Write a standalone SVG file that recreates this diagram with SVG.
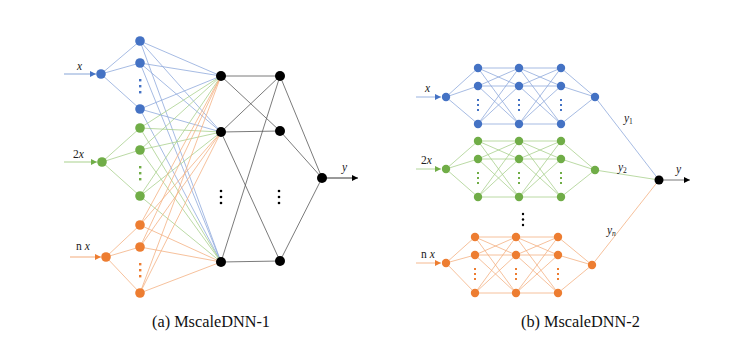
<svg xmlns="http://www.w3.org/2000/svg" width="745" height="350" viewBox="0 0 745 350">
<style>
.lb{stroke:#8FAADC;stroke-width:0.8;fill:none}
.lg{stroke:#A9D18E;stroke-width:0.8;fill:none}
.lo{stroke:#F4B183;stroke-width:0.8;fill:none}
.lk{stroke:#595959;stroke-width:0.8;fill:none}
.nb{fill:#4472C4}
.ng{fill:#70AD47}
.no{fill:#ED7D31}
.nk{fill:#000}
.t{font-family:"Liberation Serif",serif;font-size:11.5px;fill:#222}
.i{font-style:italic}
.cap{font-family:"Liberation Serif",serif;font-size:16.3px;fill:#111}
</style>
<defs>
<marker id="ab" viewBox="0 0 6 6" refX="6" refY="3" markerWidth="6" markerHeight="6" markerUnits="userSpaceOnUse" orient="auto"><path d="M0 0L6 3L0 6z" fill="#4472C4"/></marker>
<marker id="ag" viewBox="0 0 6 6" refX="6" refY="3" markerWidth="6" markerHeight="6" markerUnits="userSpaceOnUse" orient="auto"><path d="M0 0L6 3L0 6z" fill="#70AD47"/></marker>
<marker id="ao" viewBox="0 0 6 6" refX="6" refY="3" markerWidth="6" markerHeight="6" markerUnits="userSpaceOnUse" orient="auto"><path d="M0 0L6 3L0 6z" fill="#ED7D31"/></marker>
<marker id="ak" viewBox="0 0 6 6" refX="6" refY="3" markerWidth="6" markerHeight="6" markerUnits="userSpaceOnUse" orient="auto"><path d="M0 0L6 3L0 6z" fill="#000"/></marker>
</defs>
<rect width="745" height="350" fill="#fff"/>
<g id="connectors">
<path class="lb" d="M101 74L140 41M101 74L140 63M101 74L140 109M140 41L221 76M140 41L221 132M140 41L221 262M140 63L221 76M140 63L221 132M140 63L221 262M140 109L221 76M140 109L221 132M140 109L221 262"/>
<path class="lg" d="M102 162L140 128M102 162L140 150M102 162L140 196M140 128L221 76M140 128L221 132M140 128L221 262M140 150L221 76M140 150L221 132M140 150L221 262M140 196L221 76M140 196L221 132M140 196L221 262"/>
<path class="lo" d="M106 257L140 225M106 257L140 247M106 257L140 293M140 225L221 76M140 225L221 132M140 225L221 262M140 247L221 76M140 247L221 132M140 247L221 262M140 293L221 76M140 293L221 132M140 293L221 262"/>
<path class="lk" d="M221 76L280 76M221 76L280 131M221 132L280 76M221 132L280 131M221 132L280 261M221 262L280 76M221 262L280 261M280 76L322 178M280 131L322 178M280 261L322 178"/>
<line x1="64" y1="74" x2="96" y2="74" stroke="#B4C7E7" stroke-width="1.6" marker-end="url(#ab)"/>
<line x1="64" y1="162" x2="97" y2="162" stroke="#A9D18E" stroke-width="1.2" marker-end="url(#ag)"/>
<line x1="70" y1="257" x2="101" y2="257" stroke="#F8CBAD" stroke-width="1.6" marker-end="url(#ao)"/>
<line x1="322" y1="178" x2="358" y2="178" stroke="#000" stroke-width="0.8" marker-end="url(#ak)"/>
<path class="lb" d="M446 97L478 68M446 97L478 86M446 97L478 124M478 68L519 68M478 68L519 86M478 68L519 124M478 86L519 68M478 86L519 86M478 86L519 124M478 124L519 68M478 124L519 86M478 124L519 124M519 68L561 68M519 68L561 86M519 68L561 124M519 86L561 68M519 86L561 86M519 86L561 124M519 124L561 68M519 124L561 86M519 124L561 124M561 68L595 97M561 86L595 97M561 124L595 97M595 97L659 180"/>
<path class="lg" d="M446 169L478 141M446 169L478 159M446 169L478 197M478 141L519 141M478 141L519 159M478 141L519 197M478 159L519 141M478 159L519 159M478 159L519 197M478 197L519 141M478 197L519 159M478 197L519 197M519 141L561 141M519 141L561 159M519 141L561 197M519 159L561 141M519 159L561 159M519 159L561 197M519 197L561 141M519 197L561 159M519 197L561 197M561 141L595 170M561 159L595 170M561 197L595 170M595 170L659 180"/>
<path class="lo" d="M446 263L475 237M446 263L475 255M446 263L475 293M475 237L516 237M475 237L516 255M475 237L516 293M475 255L516 237M475 255L516 255M475 255L516 293M475 293L516 237M475 293L516 255M475 293L516 293M516 237L558 237M516 237L558 255M516 237L558 293M516 255L558 237M516 255L558 255M516 255L558 293M516 293L558 237M516 293L558 255M516 293L558 293M558 237L592 265M558 255L592 265M558 293L592 265M592 265L659 180"/>
<line x1="416" y1="97" x2="441" y2="97" stroke="#8FAADC" stroke-width="0.9" marker-end="url(#ab)"/>
<line x1="416" y1="169" x2="441" y2="169" stroke="#A9D18E" stroke-width="0.9" marker-end="url(#ag)"/>
<line x1="416" y1="263" x2="441" y2="263" stroke="#F4B183" stroke-width="0.9" marker-end="url(#ao)"/>
<line x1="659" y1="180" x2="690" y2="180" stroke="#555" stroke-width="0.8" marker-end="url(#ak)"/>
</g>
<g id="n-left-in-x"><circle class="nb" cx="101" cy="74" r="4.8"/></g>
<g id="n-left-in-2x"><circle class="ng" cx="102" cy="162" r="4.8"/></g>
<g id="n-left-in-nx"><circle class="no" cx="106" cy="257" r="4.8"/></g>
<g id="n-left-h-blue">
<circle class="nb" cx="140" cy="41" r="4.8"/><circle class="nb" cx="140" cy="63" r="4.8"/><circle class="nb" cx="140" cy="109" r="4.8"/>
<rect class="nb" x="139" y="79" width="2.4" height="2.4"/><rect class="nb" x="139" y="85" width="2.4" height="2.4"/><rect class="nb" x="139" y="91" width="2.4" height="2.4"/>
</g>
<g id="n-left-h-green">
<circle class="ng" cx="140" cy="128" r="4.8"/><circle class="ng" cx="140" cy="150" r="4.8"/><circle class="ng" cx="140" cy="196" r="4.8"/>
<rect class="ng" x="139" y="166" width="2.4" height="2.4"/><rect class="ng" x="139" y="172" width="2.4" height="2.4"/><rect class="ng" x="139" y="178" width="2.4" height="2.4"/>
</g>
<g id="n-left-h-orange">
<circle class="no" cx="140" cy="225" r="4.8"/><circle class="no" cx="140" cy="247" r="4.8"/><circle class="no" cx="140" cy="293" r="4.8"/>
<rect class="no" x="139" y="263" width="2.4" height="2.4"/><rect class="no" x="139" y="269" width="2.4" height="2.4"/><rect class="no" x="139" y="275" width="2.4" height="2.4"/>
</g>
<g id="n-left-l1">
<circle class="nk" cx="221" cy="76" r="5"/><circle class="nk" cx="221" cy="132" r="5"/><circle class="nk" cx="221" cy="262" r="5"/>
<circle class="nk" cx="221" cy="191" r="1.3"/><circle class="nk" cx="221" cy="197" r="1.3"/><circle class="nk" cx="221" cy="203" r="1.3"/>
</g>
<g id="n-left-l2">
<circle class="nk" cx="280" cy="76" r="5"/><circle class="nk" cx="280" cy="131" r="5"/><circle class="nk" cx="280" cy="261" r="5"/>
<circle class="nk" cx="279" cy="191" r="1.3"/><circle class="nk" cx="279" cy="197" r="1.3"/><circle class="nk" cx="279" cy="203" r="1.3"/>
</g>
<g id="n-left-out"><circle class="nk" cx="322" cy="178" r="5"/></g>
<g id="n-right-blue">
<circle class="nb" cx="446" cy="97" r="4.2"/>
<circle class="nb" cx="478" cy="68" r="4.2"/><circle class="nb" cx="478" cy="86" r="4.2"/><circle class="nb" cx="478" cy="124" r="4.2"/>
<circle class="nb" cx="519" cy="68" r="4.2"/><circle class="nb" cx="519" cy="86" r="4.2"/><circle class="nb" cx="519" cy="124" r="4.2"/>
<circle class="nb" cx="561" cy="68" r="4.2"/><circle class="nb" cx="561" cy="86" r="4.2"/><circle class="nb" cx="561" cy="124" r="4.2"/>
<circle class="nb" cx="595" cy="97" r="4.2"/>
<rect class="nb" x="477" y="99" width="2" height="2"/><rect class="nb" x="477" y="104" width="2" height="2"/><rect class="nb" x="477" y="109" width="2" height="2"/>
<rect class="nb" x="518" y="99" width="2" height="2"/><rect class="nb" x="518" y="104" width="2" height="2"/><rect class="nb" x="518" y="109" width="2" height="2"/>
<rect class="nb" x="560" y="99" width="2" height="2"/><rect class="nb" x="560" y="104" width="2" height="2"/><rect class="nb" x="560" y="109" width="2" height="2"/>
</g>
<g id="n-right-green">
<circle class="ng" cx="446" cy="169" r="4.2"/>
<circle class="ng" cx="478" cy="141" r="4.2"/><circle class="ng" cx="478" cy="159" r="4.2"/><circle class="ng" cx="478" cy="197" r="4.2"/>
<circle class="ng" cx="519" cy="141" r="4.2"/><circle class="ng" cx="519" cy="159" r="4.2"/><circle class="ng" cx="519" cy="197" r="4.2"/>
<circle class="ng" cx="561" cy="141" r="4.2"/><circle class="ng" cx="561" cy="159" r="4.2"/><circle class="ng" cx="561" cy="197" r="4.2"/>
<circle class="ng" cx="595" cy="170" r="4.2"/>
<rect class="ng" x="477" y="172" width="2" height="2"/><rect class="ng" x="477" y="177" width="2" height="2"/><rect class="ng" x="477" y="182" width="2" height="2"/>
<rect class="ng" x="518" y="172" width="2" height="2"/><rect class="ng" x="518" y="177" width="2" height="2"/><rect class="ng" x="518" y="182" width="2" height="2"/>
<rect class="ng" x="560" y="172" width="2" height="2"/><rect class="ng" x="560" y="177" width="2" height="2"/><rect class="ng" x="560" y="182" width="2" height="2"/>
</g>
<g id="n-right-dots">
<circle class="nk" cx="523" cy="214" r="1.2"/><circle class="nk" cx="523" cy="219.5" r="1.2"/><circle class="nk" cx="523" cy="225" r="1.2"/>
</g>
<g id="n-right-orange">
<circle class="no" cx="446" cy="263" r="4.2"/>
<circle class="no" cx="475" cy="237" r="4.2"/><circle class="no" cx="475" cy="255" r="4.2"/><circle class="no" cx="475" cy="293" r="4.2"/>
<circle class="no" cx="516" cy="237" r="4.2"/><circle class="no" cx="516" cy="255" r="4.2"/><circle class="no" cx="516" cy="293" r="4.2"/>
<circle class="no" cx="558" cy="237" r="4.2"/><circle class="no" cx="558" cy="255" r="4.2"/><circle class="no" cx="558" cy="293" r="4.2"/>
<circle class="no" cx="592" cy="265" r="4.2"/>
<rect class="no" x="474" y="268" width="2" height="2"/><rect class="no" x="474" y="273" width="2" height="2"/><rect class="no" x="474" y="278" width="2" height="2"/>
<rect class="no" x="515" y="268" width="2" height="2"/><rect class="no" x="515" y="273" width="2" height="2"/><rect class="no" x="515" y="278" width="2" height="2"/>
<rect class="no" x="557" y="268" width="2" height="2"/><rect class="no" x="557" y="273" width="2" height="2"/><rect class="no" x="557" y="278" width="2" height="2"/>
</g>
<g id="n-right-out"><circle class="nk" cx="659" cy="180" r="4.5"/></g>
<g id="labels">
<text class="t i" x="77" y="70" font-size="13">x</text>
<text class="t" x="73" y="158" font-size="13">2<tspan class="i">x</tspan></text>
<text class="t" x="76" y="250" font-size="13">n <tspan class="i">x</tspan></text>
<text class="t i" x="342" y="171" font-size="13">y</text>
<text class="t i" x="425" y="92">x</text>
<text class="t" x="421" y="164">2<tspan class="i">x</tspan></text>
<text class="t" x="421" y="258">n <tspan class="i">x</tspan></text>
<text class="t i" x="624" y="122">y<tspan font-size="7.5" font-style="normal" dy="2">1</tspan></text>
<text class="t i" x="618" y="171">y<tspan font-size="7.5" font-style="normal" dy="2">2</tspan></text>
<text class="t i" x="607" y="234">y<tspan font-size="7.5" dy="2">n</tspan></text>
<text class="t i" x="676" y="173">y</text>
<text class="cap" x="152" y="327">(a) MscaleDNN-1</text>
<text class="cap" x="521" y="327">(b) MscaleDNN-2</text>
</g>
</svg>
